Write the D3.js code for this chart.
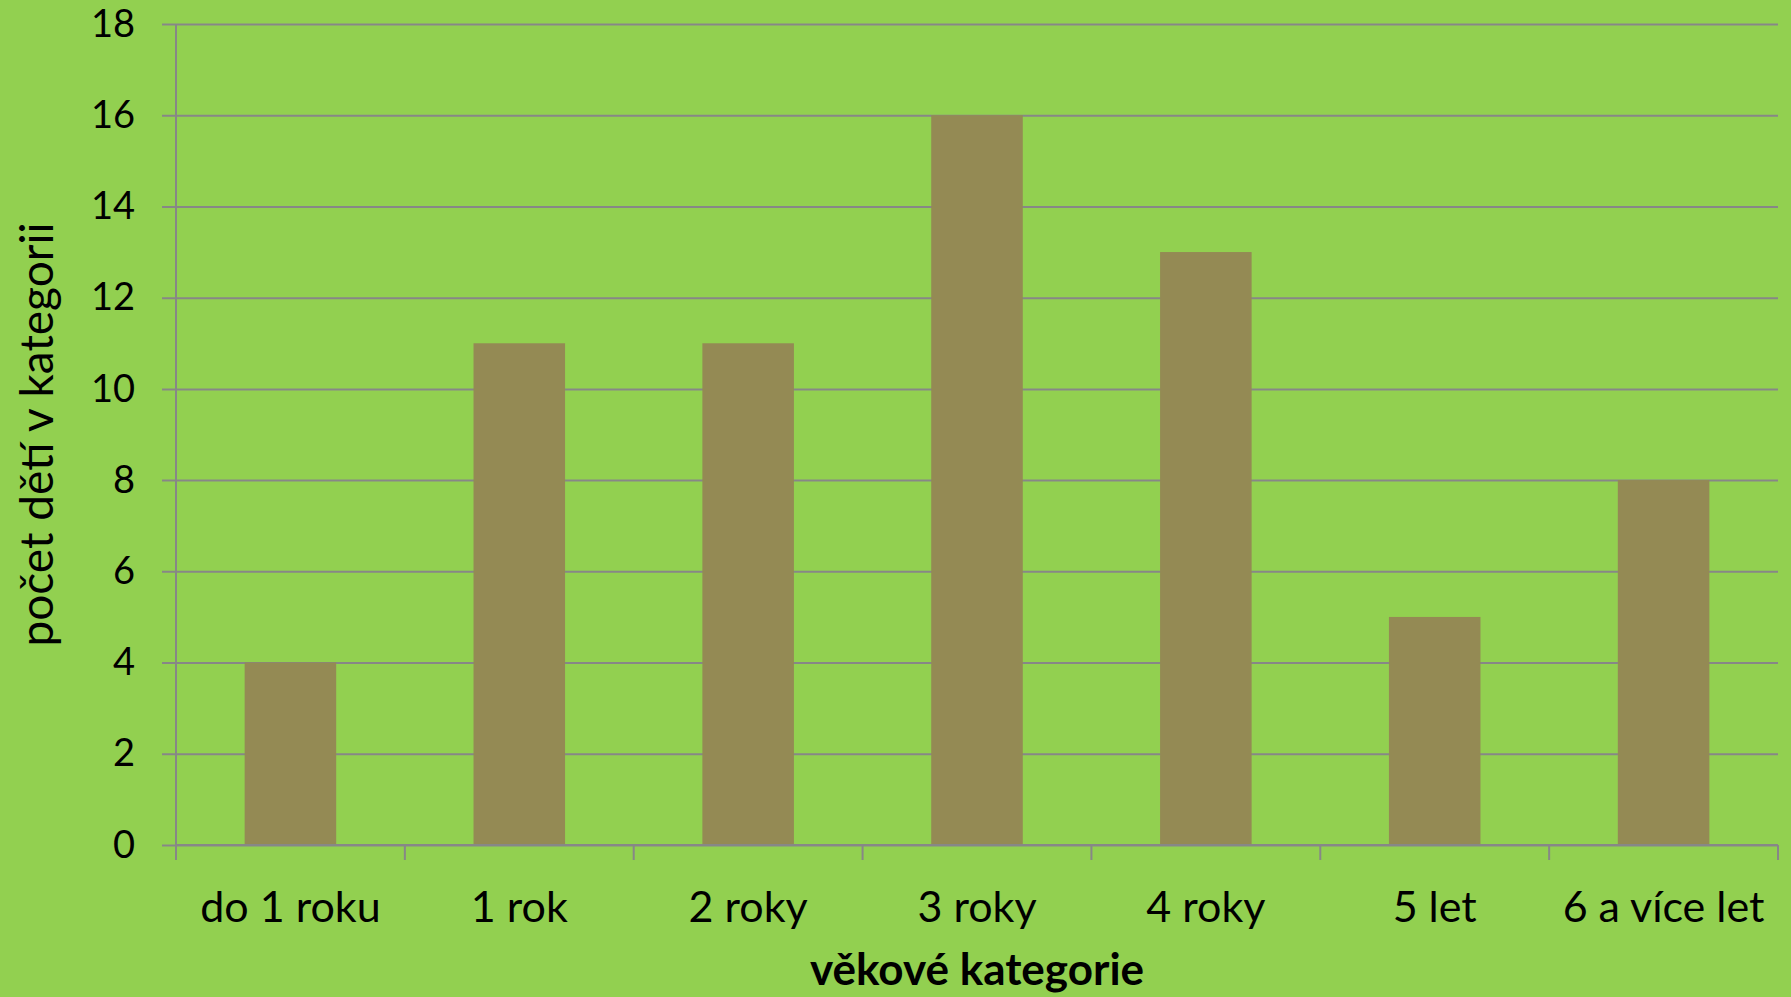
<!DOCTYPE html>
<html>
<head>
<meta charset="utf-8">
<script src="https://cdn.jsdelivr.net/npm/d3@7"></script>
<style>
  body { margin: 0; background: #92D050; }
  text { font-family: Lato, "Open Sans", sans-serif; fill: #000; }
</style>
</head>
<body>
<div id="chart"></div>
<script>
// chart data
var categories = ["do 1 roku", "1 rok", "2 roky", "3 roky", "4 roky", "5 let", "6 a více let"];
var counts = [4, 11, 11, 16, 13, 5, 8];
var yTicks = [0, 2, 4, 6, 8, 10, 12, 14, 16, 18];
var xTitle = "věkové kategorie";
var yTitle = "počet dětí v kategorii";

var svgWidth = 1791;
var svgHeight = 997;

var margin = { top: 24, right: 13, bottom: 152, left: 176 };
var chartWidth = svgWidth - margin.left - margin.right;
var chartHeight = svgHeight - margin.top - margin.bottom;

var svg = d3.select("#chart")
  .append("svg")
  .attr("width", svgWidth)
  .attr("height", svgHeight);

svg.append("rect")
  .attr("width", svgWidth)
  .attr("height", svgHeight)
  .attr("fill", "#92D050");

var chartGroup = svg.append("g")
  .attr("transform", `translate(${margin.left}, ${margin.top})`);

var xScale = d3.scaleBand()
  .domain(categories)
  .range([0, chartWidth])
  .paddingInner(0.6)
  .paddingOuter(0.3);

var yScale = d3.scaleLinear()
  .domain([0, 18])
  .range([chartHeight, 0]);

// gridlines + left ticks
var leftAxis = chartGroup.append("g")
  .call(d3.axisLeft(yScale).tickValues(yTicks).tickSize(-chartWidth).tickSizeOuter(0).tickPadding(41))
  .call(g => g.select(".domain").remove());
leftAxis.selectAll(".tick line")
  .attr("x1", -14)
  .attr("stroke", "#878787")
  .attr("stroke-width", 2);
leftAxis.selectAll(".tick text")
  .attr("font-size", "38px")
  .attr("font-family", "Lato, sans-serif");

// bars
chartGroup.selectAll(".bar")
  .data(counts)
  .enter()
  .append("rect")
  .attr("class", "bar")
  .attr("x", (d, i) => xScale(categories[i]))
  .attr("y", d => yScale(d))
  .attr("width", xScale.bandwidth())
  .attr("height", d => chartHeight - yScale(d))
  .attr("fill", "#948A54");

// y axis line
chartGroup.append("line")
  .attr("x1", 0).attr("x2", 0)
  .attr("y1", 0).attr("y2", chartHeight + 15)
  .attr("stroke", "#878787")
  .attr("stroke-width", 2);

// x axis line with boundary ticks
var step = chartWidth / categories.length;
chartGroup.append("line")
  .attr("x1", 0).attr("x2", chartWidth)
  .attr("y1", chartHeight).attr("y2", chartHeight)
  .attr("stroke", "#878787")
  .attr("stroke-width", 2);
chartGroup.selectAll(".xtick")
  .data(d3.range(categories.length + 1))
  .enter()
  .append("line")
  .attr("x1", d => d * step).attr("x2", d => d * step)
  .attr("y1", chartHeight).attr("y2", chartHeight + 15)
  .attr("stroke", "#878787")
  .attr("stroke-width", 2);

// category labels
chartGroup.selectAll(".xlabel")
  .data(categories)
  .enter()
  .append("text")
  .attr("x", d => xScale(d) + xScale.bandwidth() / 2)
  .attr("y", 922 - margin.top)
  .attr("text-anchor", "middle")
  .attr("font-size", "43px")
  .text(d => d);

// axis titles
svg.append("text")
  .attr("x", margin.left + chartWidth / 2)
  .attr("y", 985)
  .attr("text-anchor", "middle")
  .attr("font-size", "44px")
  .attr("font-weight", "bold")
  .text(xTitle);

svg.append("text")
  .attr("transform", `translate(53, ${margin.top + chartHeight / 2}) rotate(-90)`)
  .attr("text-anchor", "middle")
  .attr("font-size", "46px")
  .text(yTitle);
</script>
</body>
</html>
